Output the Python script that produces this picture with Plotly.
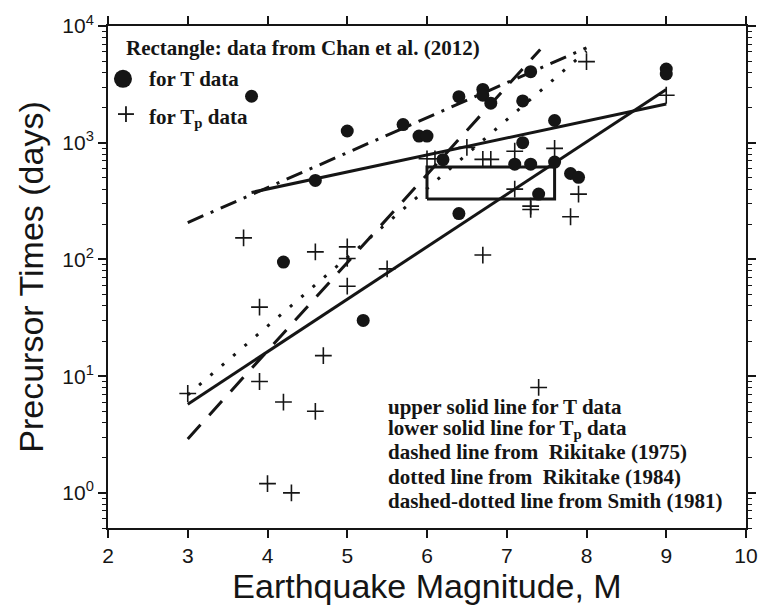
import plotly.graph_objects as go

# ---------------- data ----------------
# T data (filled circles)
t_mag = [3.8, 4.2, 4.6, 5.0, 5.2, 5.7, 5.9, 6.0, 6.2, 6.4, 6.4, 6.7, 6.7, 6.8,
         7.1, 7.2, 7.2, 7.3, 7.3, 7.4, 7.6, 7.6, 7.8, 7.9, 9.0, 9.0]
t_days = [2500, 95, 475, 1260, 30, 1430, 1140, 1140, 715, 2480, 247, 2860, 2550, 2180,
          655, 2280, 1000, 4060, 655, 363, 1550, 682, 545, 505, 4280, 3880]

# Tp data (plus signs)
tp_mag = [3.0, 3.7, 3.9, 3.9, 4.0, 4.2, 4.3, 4.6, 4.6, 4.7, 5.0, 5.0, 5.0, 5.5,
          6.0, 6.1, 6.5, 6.7, 6.8, 6.7, 7.1, 7.1, 7.3, 7.3, 7.4, 7.6, 7.8, 7.9, 8.0, 9.0]
tp_days = [7.1, 153, 39, 9.0, 1.2, 6.0, 1.0, 116, 5.0, 15, 128, 102, 59, 83,
           728, 728, 912, 720, 720, 109, 845, 400, 286, 268, 8.0, 895, 232, 363, 4950, 2550]

# regression / literature lines (end points)
upper_m, upper_t = [3.8, 9.0], [375, 2150]      # upper solid, T data
lower_m, lower_t = [3.0, 9.0], [5.75, 2860]     # lower solid, Tp data
rik75_m, rik75_t = [3.0, 7.42], [2.9, 6300]     # dashed, Rikitake (1975)
rik84_m, rik84_t = [3.0, 8.0], [6.9, 6100]      # dotted, Rikitake (1984)
smith_m, smith_t = [3.0, 8.0], [207, 6500]      # dash-dot, Smith (1981)

# rectangle: Chan et al. (2012)
rect_m = [6.0, 7.6]
rect_t = [330, 620]

x_ticks = [2, 3, 4, 5, 6, 7, 8, 9, 10]
y_ticks = [1, 10, 100, 1000, 10000]
y_ticktext = ["10<sup>0</sup>", "10<sup>1</sup>", "10<sup>2</sup>", "10<sup>3</sup>", "10<sup>4</sup>"]

legend_lines = ["upper solid line for T data",
                "lower solid line for T<sub>p</sub> data",
                "dashed line from  Rikitake (1975)",
                "dotted line from  Rikitake (1984)",
                "dashed-dotted line from Smith (1981)"]

# ---------------- figure ----------------
INK = "#151515"
W, H = 770, 608
L, R, T, B = 108, 23, 16, 79
PW, PH = W - L - R, H - T - B


def px(x):
    return (x - L) / PW


def py(y):
    return (H - B - y) / PH


fig = go.Figure()

line_w = 3
fig.add_trace(go.Scatter(x=smith_m, y=smith_t, mode="lines",
                         line=dict(color=INK, width=line_w, dash="17px,8px,3px,8px")))
fig.add_trace(go.Scatter(x=rik84_m, y=rik84_t, mode="lines",
                         line=dict(color=INK, width=line_w, dash="3px,12px")))
fig.add_trace(go.Scatter(x=rik75_m, y=rik75_t, mode="lines",
                         line=dict(color=INK, width=line_w, dash="19px,13px")))
fig.add_trace(go.Scatter(x=upper_m, y=upper_t, mode="lines",
                         line=dict(color=INK, width=line_w)))
fig.add_trace(go.Scatter(x=lower_m, y=lower_t, mode="lines",
                         line=dict(color=INK, width=line_w)))

# rectangle as closed path
rx = [rect_m[0], rect_m[1], rect_m[1], rect_m[0], rect_m[0]]
ry = [rect_t[0], rect_t[0], rect_t[1], rect_t[1], rect_t[0]]
fig.add_trace(go.Scatter(x=rx, y=ry, mode="lines", line=dict(color=INK, width=3)))

fig.add_trace(go.Scatter(x=t_mag, y=t_days, mode="markers",
                         marker=dict(symbol="circle", size=13, color=INK, line=dict(width=0))))
fig.add_trace(go.Scatter(x=tp_mag, y=tp_days, mode="markers",
                         marker=dict(symbol="cross-thin", size=12,
                                     line=dict(color=INK, width=1.6))))

serif = "Liberation Serif"
sans = "Liberation Sans"
FS = 21

ann = []
ann.append(dict(x=px(124), y=py(38), xref="paper", yref="paper", xanchor="left", yanchor="middle",
                text="<b>Rectangle: data from Chan et al. (2012)</b>", showarrow=False,
                font=dict(family=serif, size=FS, color=INK)))
ann.append(dict(x=px(147), y=py(70), xref="paper", yref="paper", xanchor="left", yanchor="middle",
                text="<b>for T data</b>", showarrow=False,
                font=dict(family=serif, size=FS, color=INK)))
ann.append(dict(x=px(147), y=py(110), xref="paper", yref="paper", xanchor="left", yanchor="middle",
                text="<b>for T<sub>p</sub> data</b>", showarrow=False,
                font=dict(family=serif, size=FS, color=INK)))

ys = [405, 428, 451, 477, 501]
for txt, yy in zip(legend_lines, ys):
    ann.append(dict(x=px(386), y=py(yy), xref="paper", yref="paper", xanchor="left", yanchor="middle",
                    text="<b>" + txt + "</b>", showarrow=False,
                    font=dict(family=serif, size=FS, color=INK)))

shapes = []
# legend circle
shapes.append(dict(type="circle", xref="paper", yref="paper", xsizemode="pixel", ysizemode="pixel",
                   xanchor=px(123), yanchor=py(70), x0=-9, x1=9, y0=-9, y1=9,
                   fillcolor=INK, line=dict(width=0)))
# legend plus
shapes.append(dict(type="line", xref="paper", yref="paper", x0=px(118), x1=px(134), y0=py(106), y1=py(106),
                   line=dict(color=INK, width=1.8)))
shapes.append(dict(type="line", xref="paper", yref="paper", x0=px(126), x1=px(126), y0=py(98), y1=py(114),
                   line=dict(color=INK, width=1.8)))

minor_vals = [k * 10 ** n for n in range(-1, 4) for k in range(2, 10) if 0.5 <= k * 10 ** n <= 10000]

fig.update_layout(
    width=W, height=H, margin=dict(l=L, r=R, t=T, b=B),
    paper_bgcolor="white", plot_bgcolor="white", showlegend=False,
    annotations=ann, shapes=shapes,
    xaxis=dict(range=[2, 10], tickvals=x_ticks, ticks="outside", ticklen=8, tickwidth=1.5,
               tickcolor=INK, showline=True, linecolor=INK, linewidth=2, mirror="ticks",
               showgrid=False, zeroline=False,
               tickfont=dict(family=sans, size=21, color=INK),
               title=dict(text="Earthquake Magnitude, M", font=dict(family=sans, size=34, color=INK),
                          standoff=5)),
    yaxis=dict(type="log", range=[-0.30103, 4], tickvals=y_ticks, ticktext=y_ticktext,
               ticks="outside", ticklen=8, tickwidth=1.5, tickcolor=INK,
               showline=True, linecolor=INK, linewidth=2, mirror="ticks",
               showgrid=False, zeroline=False,
               minor=dict(tickvals=minor_vals, ticks="outside", ticklen=4, tickwidth=1, tickcolor=INK,
                          showgrid=False),
               tickfont=dict(family=sans, size=21, color=INK),
               title=dict(text="Precursor Times (days)", font=dict(family=sans, size=34, color=INK),
                          standoff=8)),
)

fig.write_html("out.html")
